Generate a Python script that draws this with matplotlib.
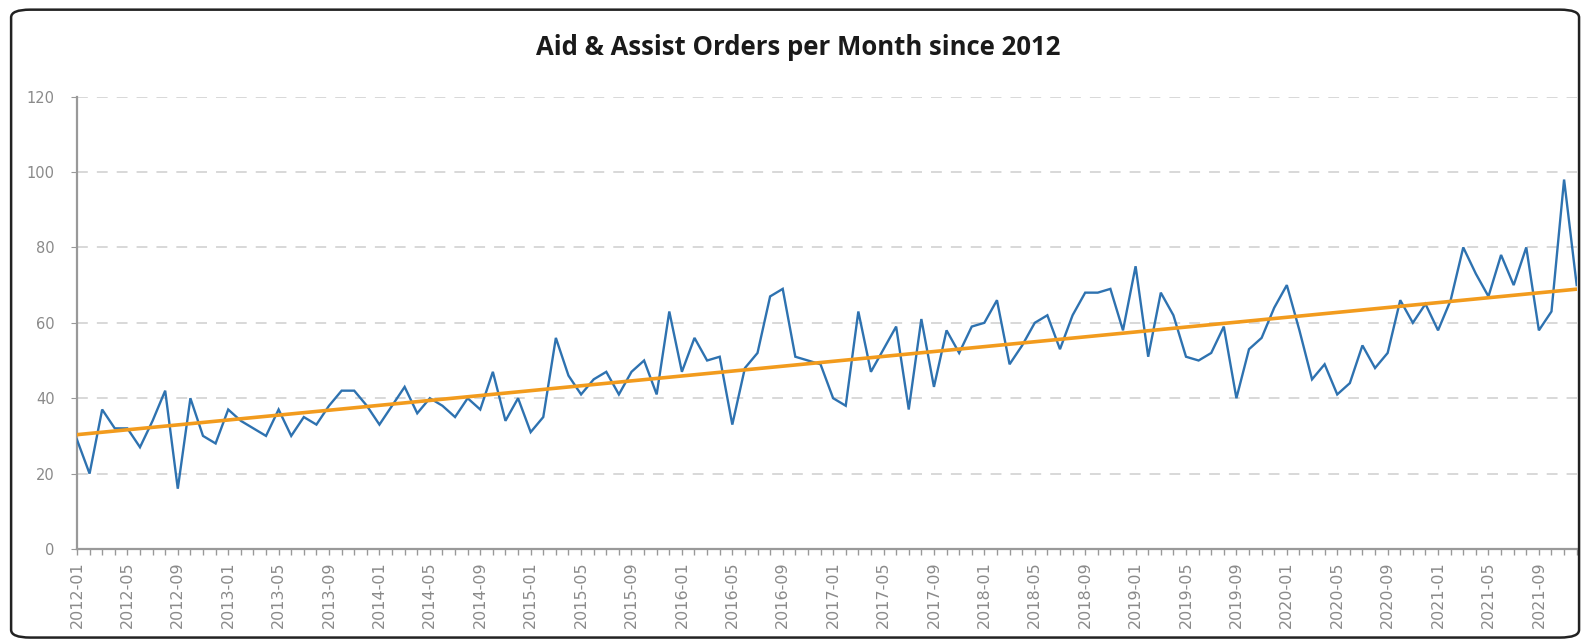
import numpy as np
import pandas as pd
import matplotlib
matplotlib.use('Agg')
import matplotlib.pyplot as plt
from matplotlib.patches import FancyBboxPatch

# monthly aid & assist orders, 2012-01 .. 2021-12
orders = [29, 20, 37, 32, 32, 27, 34, 42, 16, 40, 30, 28,
          37, 34, 32, 30, 37, 30, 35, 33, 38, 42, 42, 38,
          33, 38, 43, 36, 40, 38, 35, 40, 37, 47, 34, 40,
          31, 35, 56, 46, 41, 45, 47, 41, 47, 50, 41, 63,
          47, 56, 50, 51, 33, 48, 52, 67, 69, 51, 50, 49,
          40, 38, 63, 47, 53, 59, 37, 61, 43, 58, 52, 59,
          60, 66, 49, 54, 60, 62, 53, 62, 68, 68, 69, 58,
          75, 51, 68, 62, 51, 50, 52, 59, 40, 53, 56, 64,
          70, 58, 45, 49, 41, 44, 54, 48, 52, 66, 60, 65,
          58, 66, 80, 73, 67, 78, 70, 80, 58, 63, 98, 70]
months = pd.period_range('2012-01', periods=len(orders), freq='M').strftime('%Y-%m').tolist()
y_ticks = [0, 20, 40, 60, 80, 100, 120]

x = np.arange(len(orders))
slope, icpt = np.polyfit(x, orders, 1)
trend = slope * x + icpt

fig = plt.figure(figsize=(15.87, 6.44), dpi=100)
ax = fig.add_axes([0.0485, 0.1475, 0.945, 0.7025])

ax.plot(x, orders, color='#2e72b0', lw=1.7, solid_joinstyle='miter', zorder=3)
ax.plot(x, trend, color='#f29b1d', lw=2.6, zorder=4)

ax.set_xlim(0, len(orders) - 1)
ax.set_ylim(0, 120)
ax.set_yticks(y_ticks)
ax.grid(axis='y', color='#d6d6d6', linestyle=(0, (6, 5)), lw=1.3)
ax.set_axisbelow(True)

ax.set_xticks(x, minor=True)
ax.set_xticks(x[::4])
ax.set_xticklabels(months[::4], rotation=90, fontsize=11.5, color='#8a8a8a')
ax.tick_params(axis='x', which='both', length=4, color='#999999', width=1, pad=5)
ax.tick_params(axis='y', length=4, color='#999999', labelsize=10.5, labelcolor='#8a8a8a', pad=12)

for s in ['top', 'right']:
    ax.spines[s].set_visible(False)
for s in ['left', 'bottom']:
    ax.spines[s].set_color('#999999')
    ax.spines[s].set_linewidth(1.6)

fig.text(0.503, 0.926, 'Aid & Assist Orders per Month since 2012', ha='center', va='center',
         fontsize=18.5, fontweight='bold', family='Open Sans', color='#1a1a1a')

# rounded chart border
border = FancyBboxPatch((0.007, 0.01), 0.988, 0.975, boxstyle='round,pad=0,rounding_size=0.012',
                        transform=fig.transFigure, fill=False, ec='#222222', lw=1.8)
fig.patches.append(border)

fig.savefig('out.png', dpi=100)
